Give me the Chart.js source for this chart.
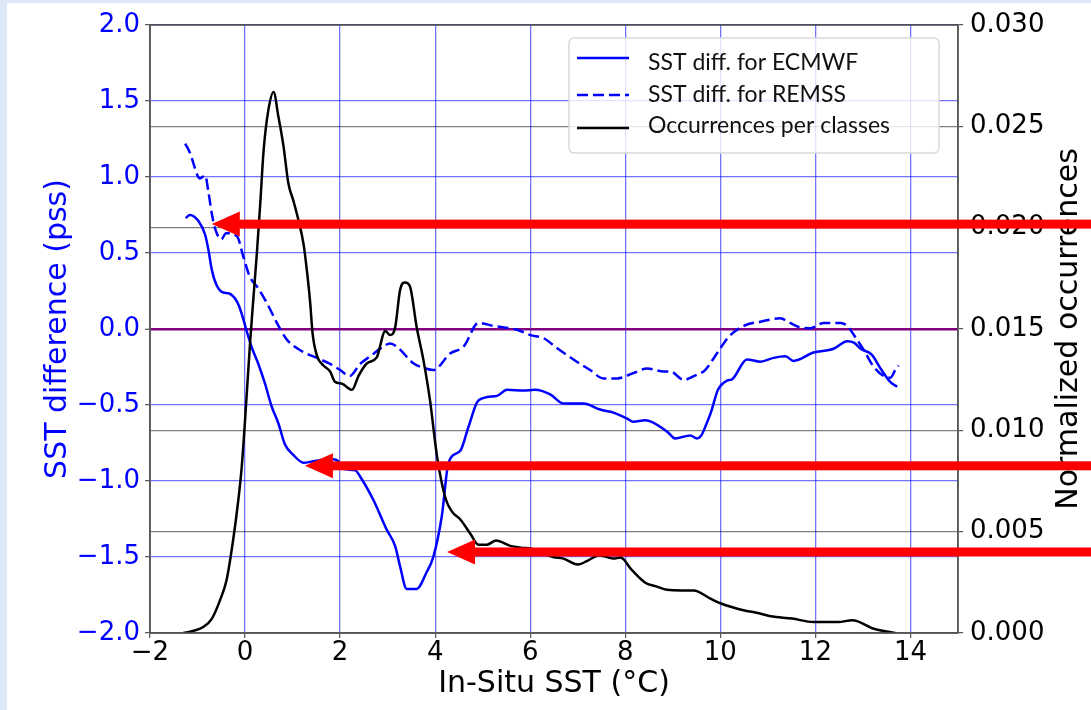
<!DOCTYPE html>
<html><head><meta charset="utf-8">
<script src="https://cdn.jsdelivr.net/npm/chart.js@4.4.1/dist/chart.umd.min.js"></script>
<style>html,body{margin:0;padding:0;background:#fff;}canvas{display:block;}</style>
</head><body>
<canvas id="c" width="1091" height="710"></canvas>
<script>
// ---- data ----
const xTicks = [-2, 0, 2, 4, 6, 8, 10, 12, 14];
const leftTicks = [-2, -1.5, -1, -0.5, 0, 0.5, 1, 1.5, 2];
const rightTicks = [0, 0.005, 0.01, 0.015, 0.02, 0.025, 0.03];

const ecmwfX = [-1.25,-1.16,-0.98,-0.84,-0.77,-0.70,-0.60,-0.46,-0.35,-0.17,-0.07,0.03,0.14,0.28,0.42,0.56,0.70,0.84,1.02,1.23,1.44,1.65,1.86,1.96,2.07,2.32,2.42,2.70,2.98,3.16,3.26,3.40,3.61,3.82,3.96,4.14,4.28,4.53,4.70,4.91,5.30,5.51,5.86,6.10,6.42,6.70,7.12,7.47,7.75,8.04,8.17,8.42,8.88,9.05,9.37,9.51,9.60,9.70,9.80,9.95,10.14,10.25,10.56,10.84,11.12,11.37,11.54,11.96,12.38,12.67,12.81,12.95,13.19,13.37,13.58,13.72];
const ecmwfY = [0.73,0.75,0.71,0.62,0.52,0.39,0.29,0.24,0.235,0.18,0.10,-0.01,-0.12,-0.23,-0.36,-0.51,-0.62,-0.76,-0.83,-0.88,-0.87,-0.86,-0.857,-0.87,-0.92,-0.93,-0.97,-1.125,-1.32,-1.43,-1.56,-1.71,-1.71,-1.60,-1.50,-1.23,-0.88,-0.80,-0.645,-0.47,-0.44,-0.40,-0.405,-0.40,-0.43,-0.49,-0.49,-0.53,-0.55,-0.59,-0.61,-0.60,-0.675,-0.72,-0.70,-0.72,-0.70,-0.63,-0.55,-0.40,-0.34,-0.33,-0.20,-0.215,-0.19,-0.18,-0.21,-0.155,-0.13,-0.08,-0.09,-0.13,-0.17,-0.26,-0.35,-0.38];

const remssX = [-1.26,-1.16,-1.0,-0.95,-0.84,-0.77,-0.70,-0.63,-0.50,-0.40,-0.17,-0.035,0.105,0.25,0.46,0.67,0.88,1.16,1.51,1.79,2.0,2.2,2.42,2.63,2.91,3.05,3.19,3.54,3.80,3.96,4.32,4.60,4.91,5.23,5.72,6.0,6.28,6.56,6.98,7.26,7.54,7.83,8.17,8.46,8.81,8.95,9.23,9.44,9.68,9.93,10.18,10.53,10.84,11.26,11.47,11.68,11.89,12.18,12.53,12.67,12.81,13.02,13.23,13.44,13.58,13.68,13.75];
const remssY = [1.22,1.16,1.01,0.99,1.01,0.90,0.76,0.66,0.59,0.63,0.61,0.475,0.34,0.28,0.17,0.04,-0.07,-0.14,-0.19,-0.23,-0.27,-0.31,-0.23,-0.18,-0.115,-0.095,-0.115,-0.225,-0.26,-0.27,-0.16,-0.115,0.04,0.02,-0.005,-0.04,-0.06,-0.125,-0.215,-0.27,-0.325,-0.325,-0.29,-0.26,-0.28,-0.28,-0.335,-0.31,-0.27,-0.16,-0.05,0.026,0.048,0.07,0.04,0.01,0.005,0.04,0.04,0.02,-0.04,-0.14,-0.25,-0.31,-0.32,-0.27,-0.24];

const occX = [-1.3,-1.1,-0.88,-0.70,-0.53,-0.39,-0.25,-0.14,-0.07,0.0,0.105,0.175,0.25,0.32,0.39,0.49,0.60,0.70,0.81,0.91,1.02,1.12,1.23,1.30,1.37,1.42,1.51,1.65,1.79,1.89,2.04,2.25,2.39,2.56,2.77,2.95,3.05,3.16,3.26,3.37,3.47,3.61,3.75,3.89,4.04,4.21,4.35,4.53,4.74,4.91,5.09,5.28,5.58,5.80,6.03,6.25,6.48,6.70,7.0,7.23,7.45,7.75,7.90,8.13,8.43,8.65,8.88,9.18,9.44,9.78,10.0,10.53,10.76,11.06,11.51,11.96,12.48,12.78,13.23,13.68];
const occY = [0.0,0.0001,0.0003,0.0007,0.0016,0.0026,0.0046,0.0066,0.0082,0.0105,0.0143,0.0165,0.0188,0.0212,0.0238,0.0258,0.0267,0.0255,0.0240,0.0222,0.0213,0.0204,0.0192,0.0179,0.0163,0.0148,0.0137,0.0132,0.0129,0.0124,0.0123,0.0120,0.0127,0.0133,0.0136,0.0149,0.0147,0.0151,0.0169,0.0173,0.0171,0.0151,0.0135,0.0115,0.0087,0.0067,0.0060,0.0056,0.0049,0.00436,0.00436,0.00456,0.0043,0.00421,0.00416,0.00397,0.00375,0.00367,0.00338,0.0036,0.00384,0.00367,0.00372,0.00313,0.00247,0.0023,0.00213,0.0021,0.0021,0.00171,0.00147,0.0011,0.0010,0.00083,0.00071,0.00054,0.00054,0.00063,0.00021,0.0];

const seriesLabels = ['SST diff. for ECMWF', 'SST diff. for REMSS', 'Occurrences per classes'];
const xTitle = 'In-Situ SST (°C)';
const leftTitle = 'SST difference (pss)';
const rightTitle = 'Normalized occurrences';

// annotation arrows (tip positions in data coordinates)
const arrowTipX = [-0.7, 1.26, 4.25];
const arrowTipY = [0.69, -0.90, -1.467];

// ---- helpers ----
const pts = (xs, ys) => xs.map((x, i) => ({x: x, y: ys[i]}));
const minus = s => String(s).replace('-', '\u2212');
const TICKFONT = {family: 'DejaVu Sans', size: 26};
const TITLEFONT = {family: 'DejaVu Sans', size: 30};

const bgPlugin = {
  id: 'bg',
  beforeDraw(chart) {
    const c = chart.ctx;
    c.save();
    c.fillStyle = '#ffffff';
    c.fillRect(0, 0, chart.width, chart.height);
    c.fillStyle = '#dde9f6';
    c.fillRect(0, 0, 7, chart.height);
    c.fillRect(0, 0, chart.width, 3);
    c.restore();
  }
};

const framePlugin = {
  id: 'frame',
  afterDatasetsDraw(chart) {
    const c = chart.ctx, a = chart.chartArea;
    c.save();
    c.strokeStyle = '#555555';
    c.lineWidth = 1.5;
    c.strokeRect(a.left, a.top, a.right - a.left, a.bottom - a.top);
    // legend
    const bw = 370, bh = 115;
    const bx = a.right - 19 - bw, by = a.top + 13;
    c.beginPath();
    c.roundRect(bx, by, bw, bh, 5);
    c.fillStyle = 'rgba(255,255,255,0.8)';
    c.fill();
    c.strokeStyle = '#d9d9d9';
    c.lineWidth = 1.5;
    c.stroke();
    const markY = [20, 57, 90];
    const baseY = [32, 63.5, 95];
    chart.data.datasets.forEach((ds, i) => {
      c.beginPath();
      c.setLineDash(ds.borderDash || []);
      c.strokeStyle = ds.borderColor;
      c.lineWidth = ds.borderWidth;
      c.moveTo(bx + 8, by + markY[i]);
      c.lineTo(bx + 60, by + markY[i]);
      c.stroke();
      c.setLineDash([]);
      c.fillStyle = '#111';
      c.font = '23px Lato';
      c.textBaseline = 'alphabetic';
      c.textAlign = 'left';
      c.fillText(ds.label, bx + 79, by + baseY[i]);
    });
    c.restore();
  },
  afterDraw(chart) {
    const c = chart.ctx, a = chart.chartArea;
    c.save();
    // right axis title, reading bottom-to-top
    c.translate(1069, (a.top + a.bottom) / 2);
    c.rotate(-Math.PI / 2);
    c.font = '30px "DejaVu Sans"';
    c.fillStyle = '#000';
    c.textAlign = 'center';
    c.textBaseline = 'middle';
    c.fillText(rightTitle, 0, 0);
    c.restore();
    // red arrows
    const xs = chart.scales.x, ys = chart.scales.y;
    c.save();
    c.fillStyle = '#ff0000';
    arrowTipX.forEach((vx, i) => {
      const tx = xs.getPixelForValue(vx), ty = ys.getPixelForValue(arrowTipY[i]);
      c.beginPath();
      c.moveTo(tx, ty);
      c.lineTo(tx + 28, ty - 12.5);
      c.lineTo(tx + 28, ty + 12.5);
      c.closePath();
      c.fill();
      c.fillRect(tx + 26, ty - 4.5, chart.width - tx - 26, 9);
    });
    c.restore();
  }
};

const lineCommon = {pointRadius: 0, fill: false, cubicInterpolationMode: 'monotone', borderWidth: 2.5, borderJoinStyle: 'round'};

new Chart(document.getElementById('c'), {
  type: 'line',
  data: {
    datasets: [
      Object.assign({label: seriesLabels[0], data: pts(ecmwfX, ecmwfY), yAxisID: 'y', borderColor: '#0000ff', order: 2}, lineCommon),
      Object.assign({label: seriesLabels[1], data: pts(remssX, remssY), yAxisID: 'y', borderColor: '#0000ff', borderDash: [11, 5], order: 1}, lineCommon),
      Object.assign({label: seriesLabels[2], data: pts(occX, occY), yAxisID: 'y2', borderColor: '#000000', order: 0}, lineCommon)
    ]
  },
  options: {
    responsive: false,
    animation: false,
    layout: {padding: {top: 25, left: 0, right: 0, bottom: 0}},
    plugins: {legend: {display: false}, tooltip: {enabled: false}},
    scales: {
      x: {
        type: 'linear', position: 'bottom', min: -2, max: 15,
        afterBuildTicks: s => { s.ticks = xTicks.map(v => ({value: v})); },
        afterFit: s => { s.height = 77; },
        grid: {color: 'rgba(0,0,255,0.55)', lineWidth: 1.3, tickLength: 5, tickColor: '#555', tickWidth: 1.2},
        border: {color: '#555', width: 1.5},
        ticks: {font: TICKFONT, color: '#000', padding: 0, autoSkip: false, maxRotation: 0, callback: v => minus(v)},
        title: {display: true, text: xTitle, font: TITLEFONT, color: '#000', padding: {top: 0, bottom: 8}}
      },
      y: {
        type: 'linear', position: 'left', min: -2, max: 2,
        afterBuildTicks: s => { s.ticks = leftTicks.map(v => ({value: v})); },
        afterFit: s => { s.width = 150; },
        grid: {
          color: c => c.tick && c.tick.value === 0 ? '#800080' : 'rgba(0,0,255,0.55)',
          lineWidth: c => c.tick && c.tick.value === 0 ? 2.5 : 1.3,
          tickLength: 5, tickColor: '#555', tickWidth: 1.2
        },
        border: {color: '#555', width: 1.5},
        ticks: {font: TICKFONT, color: '#0000ff', padding: 5, autoSkip: false, callback: v => minus(v.toFixed(1))},
        title: {display: true, text: leftTitle, font: TITLEFONT, color: '#0000ff', padding: {top: 40, bottom: 0}}
      },
      y2: {
        type: 'linear', position: 'right', min: 0, max: 0.03,
        afterBuildTicks: s => { s.ticks = rightTicks.map(v => ({value: v})); },
        afterFit: s => { s.width = 133; },
        grid: {
          color: c => c.tick && Math.abs(c.tick.value - 0.015) < 1e-9 ? 'rgba(0,0,0,0)' : 'rgba(0,0,0,0.5)',
          lineWidth: 1.2, tickLength: 5, tickColor: '#555', tickWidth: 1.2
        },
        border: {color: '#555', width: 1.5},
        ticks: {font: TICKFONT, color: '#000', padding: 7, autoSkip: false, callback: v => v.toFixed(3)},
        title: {display: false}
      }
    }
  },
  plugins: [bgPlugin, framePlugin]
});
</script>
</body></html>
